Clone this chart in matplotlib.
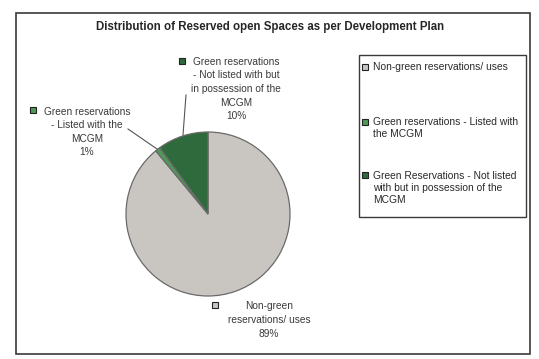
import matplotlib
matplotlib.use("Agg")
import matplotlib.pyplot as plt
from matplotlib.patches import Rectangle

plt.rcParams["font.family"] = ["Liberation Sans", "DejaVu Sans"]

# data
categories = ["Non-green reservations/ uses",
              "Green reservations - Listed with the MCGM",
              "Green Reservations - Not listed with but in possession of the MCGM"]
legend_labels = ["Non-green reservations/ uses",
                 "Green reservations - Listed with\nthe MCGM",
                 "Green Reservations - Not listed\nwith but in possession of the\nMCGM"]
slice_labels = ["Non-green\nreservations/ uses",
                "Green reservations\n- Listed with the\nMCGM",
                "Green reservations\n- Not listed with but\nin possession of the\nMCGM"]
values = [89, 1, 10]
colors = ["#c9c6c2", "#4e9a56", "#2f6a3d"]
title = "Distribution of Reserved open Spaces as per Development Plan"

W, H = 539, 359
fig = plt.figure(figsize=(W / 100, H / 100), dpi=100)
ax = fig.add_axes([0, 0, 1, 1])

def py(y):  # image row -> data y
    return H - y

wedges, _ = ax.pie(values, colors=colors, startangle=90, counterclock=False,
                   center=(208, py(214)), radius=82, frame=True,
                   wedgeprops=dict(edgecolor="#6a6a6a", linewidth=0.9))
ax.set_xlim(0, W)
ax.set_ylim(0, H)
ax.set_aspect("equal")
ax.axis("off")

# outer chart frame + title
ax.add_patch(Rectangle((16, py(354)), 514, 341, fill=False, ec="#3a3a3a", lw=1.2))
ax.text(270, py(27), title, ha="center", va="center", fontsize=8.3,
        fontweight="bold", color="#262626")

total = sum(values)
pct = [f"{v / total * 100:.0f}%" for v in values]
lab_kw = dict(ha="center", va="center", fontsize=7.3, color="#3a3a3a", linespacing=1.45)
key_kw = dict(marker="s", ms=4, mec="#222222", mew=0.8)

# data labels with small keys + leader lines
ax.text(269, py(320), slice_labels[0] + "\n" + pct[0], **lab_kw)
ax.plot(215, py(305), mfc=colors[0], **key_kw)

ax.text(87, py(132), slice_labels[1] + "\n" + pct[1], **lab_kw)
ax.plot(33, py(110), mfc=colors[1], **key_kw)
ax.plot([128, 157], [py(129), py(149)], color="#555555", lw=0.8)

ax.text(236, py(89), slice_labels[2] + "\n" + pct[2], **lab_kw)
ax.plot(182, py(61), mfc=colors[2], **key_kw)
ax.plot([186, 183], [py(95), py(135)], color="#555555", lw=0.8)

# legend box
ax.add_patch(Rectangle((359, py(217)), 167, 162, fill=False, ec="#3a3a3a", lw=1.0))
first_rows = [67, 122, 175]
centers = [67, 128, 188]
for lab, c, y0, yc in zip(legend_labels, colors, first_rows, centers):
    ax.plot(365, py(y0), mfc=c, **key_kw)
    ax.text(373, py(yc), lab, ha="left", va="center", fontsize=7.4,
            color="#2a2a2a", linespacing=1.2)

fig.savefig("out.png", dpi=100, facecolor="white")
